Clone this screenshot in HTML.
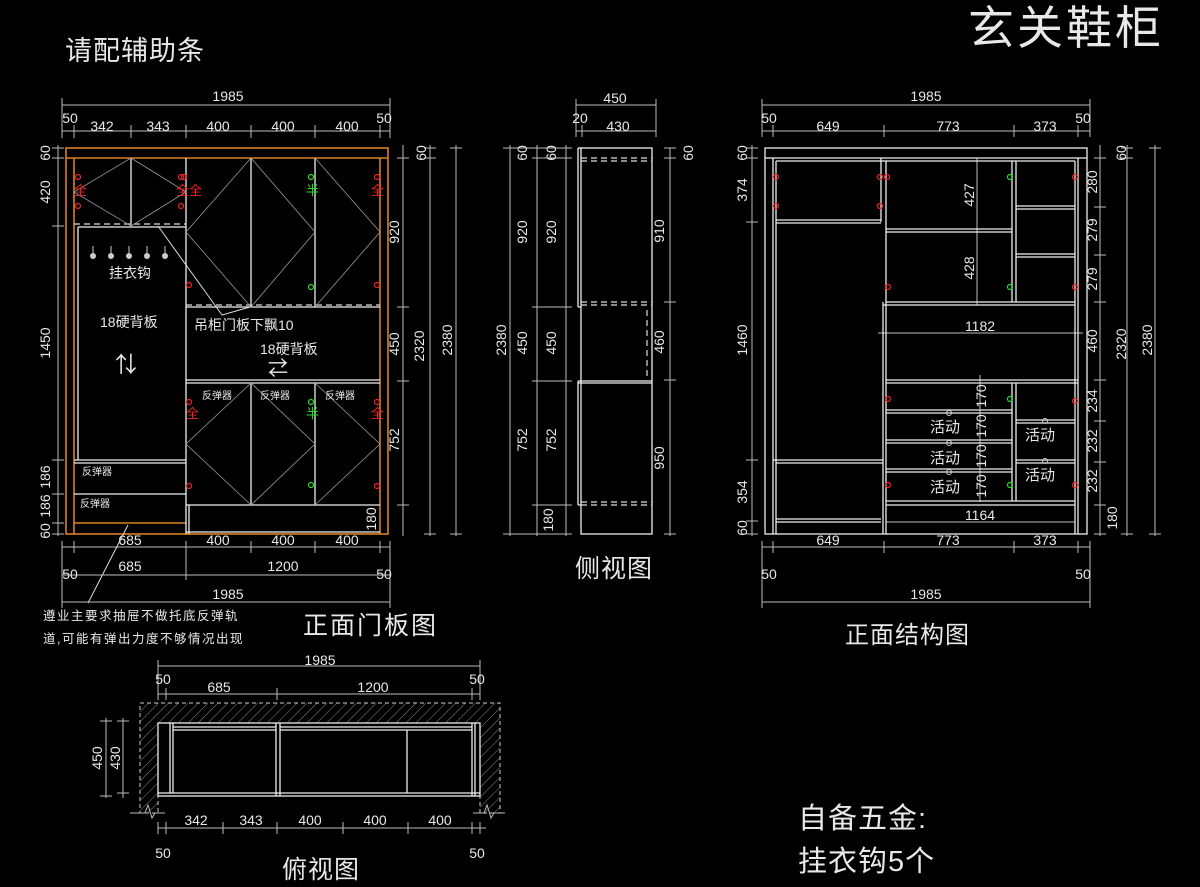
<!DOCTYPE html>
<html><head><meta charset="utf-8"><style>
html,body{margin:0;padding:0;background:#000;}
svg{display:block}
text{font-family:"Liberation Sans","Noto Sans CJK SC",sans-serif;fill:#e8e8e8;}
.d{stroke:#bbb;stroke-width:1;fill:none}
.w{stroke:#eee;stroke-width:1.3;fill:none}
.o{stroke:#d9801f;stroke-width:1.6;fill:none}
.t{stroke:#999;stroke-width:0.8;fill:none}
.dash{stroke:#ddd;stroke-width:1.2;stroke-dasharray:6,4;fill:none}
.n{font-size:14px}
.r{fill:#e22;font-size:15px}
.c{font-size:12px}
</style></head><body>
<svg width="1200" height="887" viewBox="0 0 1200 887" xmlns="http://www.w3.org/2000/svg">
<rect width="1200" height="887" fill="#000"/>
<!-- titles -->
<text x="968" y="44" font-size="46" style="letter-spacing:3px">玄关鞋柜</text>
<text x="65" y="60" font-size="27" style="letter-spacing:1px">请配辅助条</text>

<!-- ================= FRONT DOOR VIEW ================= -->
<g class="d">
<line x1="62" y1="105" x2="390" y2="105"/>
<line x1="62" y1="131" x2="390" y2="131"/>
<line x1="62" y1="98" x2="62" y2="138"/><line x1="390" y1="98" x2="390" y2="138"/>
<line x1="74" y1="125" x2="74" y2="138"/><line x1="131" y1="125" x2="131" y2="138"/><line x1="186" y1="125" x2="186" y2="138"/><line x1="251" y1="125" x2="251" y2="138"/><line x1="315" y1="125" x2="315" y2="138"/><line x1="380" y1="125" x2="380" y2="138"/>
<line x1="58" y1="145" x2="58" y2="536"/>
<line x1="52" y1="148" x2="64" y2="148"/><line x1="52" y1="158" x2="64" y2="158"/><line x1="52" y1="226" x2="64" y2="226"/><line x1="52" y1="460" x2="64" y2="460"/><line x1="52" y1="494" x2="64" y2="494"/><line x1="52" y1="523" x2="64" y2="523"/><line x1="52" y1="534" x2="64" y2="534"/>
<line x1="403" y1="145" x2="403" y2="536"/>
<line x1="397" y1="158" x2="409" y2="158"/><line x1="397" y1="307" x2="409" y2="307"/><line x1="397" y1="381" x2="409" y2="381"/><line x1="397" y1="505" x2="409" y2="505"/>
<line x1="430" y1="145" x2="430" y2="536"/>
<line x1="424" y1="148" x2="436" y2="148"/><line x1="424" y1="158" x2="436" y2="158"/><line x1="424" y1="534" x2="436" y2="534"/>
<line x1="456" y1="145" x2="456" y2="536"/>
<line x1="450" y1="148" x2="462" y2="148"/><line x1="450" y1="534" x2="462" y2="534"/>
<line x1="62" y1="547" x2="390" y2="547"/>
<line x1="62" y1="575" x2="390" y2="575"/>
<line x1="62" y1="602" x2="390" y2="602"/>
<line x1="186" y1="541" x2="186" y2="580"/><line x1="251" y1="541" x2="251" y2="553"/><line x1="315" y1="541" x2="315" y2="553"/>
<line x1="62" y1="541" x2="62" y2="608"/><line x1="390" y1="541" x2="390" y2="608"/><line x1="74" y1="541" x2="74" y2="553"/><line x1="380" y1="541" x2="380" y2="553"/>
</g>
<g class="n" text-anchor="middle">
<text x="228" y="101">1985</text>
<text x="70" y="123">50</text><text x="102" y="131">342</text><text x="158" y="131">343</text>
<text x="218" y="131">400</text><text x="283" y="131">400</text><text x="347" y="131">400</text><text x="384" y="123">50</text>
<text transform="translate(50,153) rotate(-90)">60</text>
<text transform="translate(50,192) rotate(-90)">420</text>
<text transform="translate(50,343) rotate(-90)">1450</text>
<text transform="translate(50,477) rotate(-90)">186</text>
<text transform="translate(50,506) rotate(-90)">186</text>
<text transform="translate(50,531) rotate(-90)">60</text>
<text transform="translate(399,232) rotate(-90)">920</text>
<text transform="translate(399,344) rotate(-90)">450</text>
<text transform="translate(399,440) rotate(-90)">752</text>
<text transform="translate(376,519) rotate(-90)">180</text>
<text transform="translate(426,153) rotate(-90)">60</text>
<text transform="translate(424,346) rotate(-90)">2320</text>
<text transform="translate(452,340) rotate(-90)">2380</text>
<text x="130" y="545">685</text><text x="218" y="545">400</text><text x="283" y="545">400</text><text x="347" y="545">400</text>
<text x="70" y="579">50</text><text x="130" y="571">685</text><text x="283" y="571">1200</text><text x="384" y="579">50</text>
<text x="228" y="599">1985</text>
</g>
<!-- cabinet -->
<rect x="66" y="148" width="322" height="386" class="o"/>
<line x1="66" y1="158" x2="388" y2="158" class="o"/>
<line x1="74" y1="158" x2="74" y2="534" class="o"/>
<line x1="380" y1="158" x2="380" y2="534" class="o"/>
<line x1="74" y1="523" x2="186" y2="523" class="o"/>
<g class="w">
<line x1="131" y1="158" x2="131" y2="226"/>
<line x1="186" y1="158" x2="186" y2="534"/>
<line x1="251" y1="158" x2="251" y2="307"/><line x1="315" y1="158" x2="315" y2="307"/>
<line x1="78" y1="227" x2="186" y2="227"/><line x1="78" y1="227" x2="78" y2="460"/>
<line x1="186" y1="307" x2="380" y2="307"/>
<line x1="186" y1="380" x2="380" y2="380"/><line x1="186" y1="383" x2="380" y2="383"/>
<line x1="251" y1="383" x2="251" y2="505"/><line x1="315" y1="383" x2="315" y2="505"/>
<line x1="186" y1="505" x2="380" y2="505"/>
<line x1="189" y1="505" x2="189" y2="534"/>
<line x1="74" y1="460" x2="186" y2="460"/><line x1="74" y1="463" x2="186" y2="463"/>
<line x1="74" y1="494" x2="186" y2="494"/>
<line x1="186" y1="532" x2="380" y2="532"/>
</g>
<g class="dash"><line x1="74" y1="224" x2="186" y2="224"/><line x1="186" y1="305" x2="380" y2="305"/></g>
<g class="t">
<polyline points="131,158 74,192 131,226"/><polyline points="131,158 186,192 131,226"/>
<polyline points="251,158 186,232 251,307"/><polyline points="251,158 315,232 251,307"/><polyline points="315,158 380,232 315,307"/>
<polyline points="251,383 186,444 251,505"/><polyline points="251,383 315,444 251,505"/><polyline points="315,383 380,444 315,505"/>
</g>
<line x1="158" y1="226" x2="222" y2="315" stroke="#ddd"/><line x1="222" y1="315" x2="250" y2="307" stroke="#ddd"/>
<line x1="128" y1="525" x2="88" y2="603" stroke="#ddd"/>
<!-- hinges -->
<g fill="none" stroke="#e22" stroke-width="1.2">
<circle cx="78" cy="177" r="2.5"/><circle cx="78" cy="206" r="2.5"/>
<circle cx="181" cy="177" r="2.5"/><circle cx="181" cy="206" r="2.5"/><circle cx="184" cy="177" r="2.5"/>
<circle cx="189" cy="285" r="2.5"/><circle cx="377" cy="177" r="2.5"/><circle cx="377" cy="285" r="2.5"/>
<circle cx="189" cy="402" r="2.5"/><circle cx="189" cy="486" r="2.5"/><circle cx="377" cy="402" r="2.5"/><circle cx="377" cy="486" r="2.5"/>
</g>
<g fill="none" stroke="#2d2" stroke-width="1.2"><circle cx="311" cy="177" r="2.5"/><circle cx="311" cy="287" r="2.5"/><circle cx="311" cy="402" r="2.5"/><circle cx="311" cy="485" r="2.5"/></g>
<g font-size="13" style="fill:#e22">
<text x="74" y="195" class="r" style="font-size:13px">全</text><text x="176" y="195" class="r" style="font-size:13px">全全</text>
<text x="371" y="195" class="r" style="font-size:13px">全</text>
<text x="186" y="418" class="r" style="font-size:13px">全</text><text x="371" y="418" class="r" style="font-size:13px">全</text>
</g>
<text x="306" y="195" style="fill:#2d2;font-size:13px">半</text><text x="306" y="418" style="fill:#2d2;font-size:13px">半</text>
<g fill="#ccc"><circle cx="93" cy="256" r="3"/><circle cx="111" cy="256" r="3"/><circle cx="129" cy="256" r="3"/><circle cx="147" cy="256" r="3"/><circle cx="165" cy="256" r="3"/></g>
<g stroke="#ccc"><line x1="93" y1="246" x2="93" y2="254"/><line x1="111" y1="246" x2="111" y2="254"/><line x1="129" y1="246" x2="129" y2="254"/><line x1="147" y1="246" x2="147" y2="254"/><line x1="165" y1="246" x2="165" y2="254"/></g>
<text x="109" y="278" font-size="14">挂衣钩</text>
<text x="100" y="327" font-size="14">18硬背板</text>
<text x="115" y="372" font-size="22">⇅</text>
<text x="194" y="330" font-size="14">吊柜门板下飘10</text>
<text x="260" y="354" font-size="14">18硬背板</text>
<text x="268" y="375" font-size="20">⇄</text>
<g font-size="10"><text x="202" y="399">反弹器</text><text x="260" y="399">反弹器</text><text x="325" y="399">反弹器</text><text x="82" y="475">反弹器</text><text x="80" y="507">反弹器</text></g>
<text x="43" y="620" font-size="12.5" style="letter-spacing:1.5px">遵业主要求抽屉不做托底反弹轨</text>
<text x="43" y="643" font-size="12.5" style="letter-spacing:1.5px">道,可能有弹出力度不够情况出现</text>
<text x="303" y="634" font-size="25" style="letter-spacing:2px">正面门板图</text>

<!-- ================= SIDE VIEW ================= -->
<g class="d">
<line x1="576" y1="105" x2="656" y2="105"/><line x1="576" y1="131" x2="656" y2="131"/>
<line x1="576" y1="99" x2="576" y2="137"/><line x1="656" y1="99" x2="656" y2="137"/><line x1="582" y1="125" x2="582" y2="137"/>
<line x1="510" y1="145" x2="510" y2="536"/><line x1="537" y1="145" x2="537" y2="536"/><line x1="566" y1="145" x2="566" y2="536"/>
<line x1="503" y1="148" x2="572" y2="148"/><line x1="532" y1="158" x2="572" y2="158"/><line x1="532" y1="307" x2="572" y2="307"/><line x1="532" y1="381" x2="572" y2="381"/><line x1="532" y1="505" x2="572" y2="505"/><line x1="503" y1="534" x2="572" y2="534"/>
<line x1="670" y1="148" x2="670" y2="536"/><line x1="664" y1="148" x2="676" y2="148"/><line x1="664" y1="158" x2="676" y2="158"/><line x1="664" y1="302" x2="676" y2="302"/><line x1="664" y1="380" x2="676" y2="380"/><line x1="664" y1="534" x2="676" y2="534"/>
</g>
<g class="w">
<rect x="581" y="148" width="71" height="386"/>
<line x1="578" y1="148" x2="578" y2="307"/><line x1="578" y1="148" x2="581" y2="148"/><line x1="578" y1="307" x2="581" y2="307"/>
<line x1="578" y1="381" x2="578" y2="505"/><line x1="578" y1="381" x2="652" y2="381"/><line x1="578" y1="383" x2="652" y2="383"/><line x1="578" y1="505" x2="581" y2="505"/>
</g>
<g class="dash"><line x1="581" y1="158" x2="652" y2="158"/><line x1="581" y1="161" x2="652" y2="161"/><line x1="581" y1="302" x2="652" y2="302"/><line x1="581" y1="305" x2="652" y2="305"/><line x1="581" y1="502" x2="652" y2="502"/><line x1="581" y1="505" x2="652" y2="505"/><line x1="647" y1="310" x2="647" y2="378"/></g>
<g class="n" text-anchor="middle">
<text x="615" y="103">450</text><text x="580" y="123">20</text><text x="618" y="131">430</text>
<text transform="translate(506,340) rotate(-90)">2380</text>
<text transform="translate(527,153) rotate(-90)">60</text><text transform="translate(556,153) rotate(-90)">60</text>
<text transform="translate(527,232) rotate(-90)">920</text><text transform="translate(556,232) rotate(-90)">920</text>
<text transform="translate(527,343) rotate(-90)">450</text><text transform="translate(556,343) rotate(-90)">450</text>
<text transform="translate(527,440) rotate(-90)">752</text><text transform="translate(556,440) rotate(-90)">752</text>
<text transform="translate(553,520) rotate(-90)">180</text>
<text transform="translate(664,231) rotate(-90)">910</text><text transform="translate(693,153) rotate(-90)">60</text>
<text transform="translate(664,342) rotate(-90)">460</text><text transform="translate(664,458) rotate(-90)">950</text>
</g>
<text x="575" y="577" font-size="25" style="letter-spacing:1px">侧视图</text>

<!-- ================= STRUCTURE VIEW ================= -->
<g class="d">
<line x1="762" y1="105" x2="1090" y2="105"/><line x1="762" y1="131" x2="1090" y2="131"/>
<line x1="762" y1="99" x2="762" y2="137"/><line x1="1090" y1="99" x2="1090" y2="137"/>
<line x1="773" y1="125" x2="773" y2="137"/><line x1="884" y1="125" x2="884" y2="137"/><line x1="1014" y1="125" x2="1014" y2="137"/><line x1="1078" y1="125" x2="1078" y2="137"/>
<line x1="762" y1="547" x2="1090" y2="547"/><line x1="762" y1="602" x2="1090" y2="602"/>
<line x1="762" y1="541" x2="762" y2="608"/><line x1="1090" y1="541" x2="1090" y2="608"/>
<line x1="773" y1="541" x2="773" y2="553"/><line x1="884" y1="541" x2="884" y2="553"/><line x1="1014" y1="541" x2="1014" y2="553"/><line x1="1078" y1="541" x2="1078" y2="553"/>
<line x1="752" y1="145" x2="752" y2="536"/>
<line x1="746" y1="148" x2="758" y2="148"/><line x1="746" y1="158" x2="758" y2="158"/><line x1="746" y1="222" x2="758" y2="222"/><line x1="746" y1="460" x2="758" y2="460"/><line x1="746" y1="521" x2="758" y2="521"/><line x1="746" y1="534" x2="758" y2="534"/>
<line x1="1100" y1="145" x2="1100" y2="536"/>
<line x1="1094" y1="158" x2="1106" y2="158"/><line x1="1094" y1="207" x2="1106" y2="207"/><line x1="1094" y1="255" x2="1106" y2="255"/><line x1="1094" y1="302" x2="1106" y2="302"/><line x1="1094" y1="380" x2="1106" y2="380"/><line x1="1094" y1="421" x2="1106" y2="421"/><line x1="1094" y1="462" x2="1106" y2="462"/><line x1="1094" y1="505" x2="1106" y2="505"/><line x1="1094" y1="534" x2="1106" y2="534"/>
<line x1="1127" y1="145" x2="1127" y2="536"/><line x1="1121" y1="148" x2="1133" y2="148"/><line x1="1121" y1="158" x2="1133" y2="158"/><line x1="1121" y1="534" x2="1133" y2="534"/>
<line x1="1155" y1="145" x2="1155" y2="536"/><line x1="1149" y1="148" x2="1161" y2="148"/><line x1="1149" y1="534" x2="1161" y2="534"/>
<line x1="977" y1="158" x2="977" y2="305"/><line x1="980" y1="375" x2="980" y2="502"/>
<line x1="878" y1="333" x2="1083" y2="333"/><line x1="886" y1="522" x2="1075" y2="522"/>
</g>
<g class="w">
<rect x="765" y="148" width="322" height="386"/>
<line x1="765" y1="158" x2="1087" y2="158"/>
<line x1="773" y1="158" x2="773" y2="534"/><line x1="776" y1="161" x2="776" y2="534"/>
<line x1="881" y1="158" x2="881" y2="222"/><line x1="886" y1="161" x2="886" y2="534"/><line x1="883" y1="302" x2="883" y2="534"/>
<line x1="776" y1="161" x2="1075" y2="161"/>
<line x1="776" y1="220" x2="881" y2="220"/><line x1="776" y1="223" x2="881" y2="223"/>
<line x1="773" y1="460" x2="883" y2="460"/><line x1="776" y1="463" x2="883" y2="463"/>
<line x1="776" y1="519" x2="881" y2="519"/><line x1="776" y1="522" x2="881" y2="522"/>
<line x1="1012" y1="161" x2="1012" y2="302"/><line x1="1016" y1="161" x2="1016" y2="302"/>
<line x1="1075" y1="161" x2="1075" y2="534"/><line x1="1078" y1="158" x2="1078" y2="534"/>
<line x1="886" y1="229" x2="1012" y2="229"/><line x1="886" y1="232" x2="1012" y2="232"/>
<line x1="1016" y1="206" x2="1075" y2="206"/><line x1="1016" y1="209" x2="1075" y2="209"/>
<line x1="1016" y1="254" x2="1075" y2="254"/><line x1="1016" y1="257" x2="1075" y2="257"/>
<line x1="886" y1="302" x2="1075" y2="302"/><line x1="883" y1="305" x2="1075" y2="305"/>
<line x1="886" y1="380" x2="1078" y2="380"/><line x1="886" y1="383" x2="1078" y2="383"/>
<line x1="1012" y1="383" x2="1012" y2="501"/><line x1="1016" y1="383" x2="1016" y2="501"/>
<line x1="886" y1="410" x2="1012" y2="410"/><line x1="886" y1="413" x2="1012" y2="413"/>
<line x1="886" y1="440" x2="1012" y2="440"/><line x1="886" y1="443" x2="1012" y2="443"/>
<line x1="886" y1="469" x2="1012" y2="469"/><line x1="886" y1="472" x2="1012" y2="472"/>
<line x1="1016" y1="420" x2="1075" y2="420"/><line x1="1016" y1="423" x2="1075" y2="423"/>
<line x1="1016" y1="460" x2="1075" y2="460"/><line x1="1016" y1="463" x2="1075" y2="463"/>
<line x1="886" y1="501" x2="1075" y2="501"/><line x1="886" y1="505" x2="1075" y2="505"/>
</g>
<g fill="none" stroke="#e22" stroke-width="1.2">
<circle cx="776" cy="177" r="2.5"/><circle cx="776" cy="206" r="2.5"/><circle cx="880" cy="177" r="2.5"/><circle cx="880" cy="206" r="2.5"/><circle cx="887" cy="177" r="2.5"/>
<circle cx="888" cy="287" r="2.5"/><circle cx="1075" cy="177" r="2.5"/><circle cx="1075" cy="287" r="2.5"/>
<circle cx="888" cy="399" r="2.5"/><circle cx="888" cy="485" r="2.5"/><circle cx="1075" cy="401" r="2.5"/><circle cx="1075" cy="485" r="2.5"/>
</g>
<g fill="none" stroke="#2d2" stroke-width="1.2"><circle cx="1010" cy="177" r="2.5"/><circle cx="1010" cy="287" r="2.5"/><circle cx="1010" cy="399" r="2.5"/><circle cx="1010" cy="485" r="2.5"/></g>
<g fill="none" stroke="#ccc"><circle cx="949" cy="413" r="2.5"/><circle cx="949" cy="443" r="2.5"/><circle cx="949" cy="472" r="2.5"/><circle cx="1045" cy="421" r="2.5"/><circle cx="1045" cy="461" r="2.5"/></g>
<g class="r"><text x="930" y="432">活动</text><text x="930" y="463">活动</text><text x="930" y="492">活动</text><text x="1025" y="440">活动</text><text x="1025" y="480">活动</text></g>
<g class="n" text-anchor="middle">
<text x="926" y="101">1985</text>
<text x="769" y="123">50</text><text x="828" y="131">649</text><text x="948" y="131">773</text><text x="1045" y="131">373</text><text x="1083" y="123">50</text>
<text x="828" y="545">649</text><text x="948" y="545">773</text><text x="1045" y="545">373</text>
<text x="769" y="579">50</text><text x="1083" y="579">50</text><text x="926" y="599">1985</text>
<text x="980" y="331">1182</text><text x="980" y="520">1164</text>
<text transform="translate(974,195) rotate(-90)">427</text>
<text transform="translate(974,268) rotate(-90)">428</text>
<text transform="translate(986,396) rotate(-90)">170</text><text transform="translate(986,426) rotate(-90)">170</text><text transform="translate(986,456) rotate(-90)">170</text><text transform="translate(986,486) rotate(-90)">170</text>
<text transform="translate(747,153) rotate(-90)">60</text><text transform="translate(747,190) rotate(-90)">374</text>
<text transform="translate(747,340) rotate(-90)">1460</text><text transform="translate(747,492) rotate(-90)">354</text><text transform="translate(747,528) rotate(-90)">60</text>
<text transform="translate(1097,182) rotate(-90)">280</text><text transform="translate(1097,230) rotate(-90)">279</text><text transform="translate(1097,279) rotate(-90)">279</text>
<text transform="translate(1097,341) rotate(-90)">460</text><text transform="translate(1097,401) rotate(-90)">234</text><text transform="translate(1097,441) rotate(-90)">232</text><text transform="translate(1097,481) rotate(-90)">232</text><text transform="translate(1117,518) rotate(-90)">180</text>
<text transform="translate(1126,153) rotate(-90)">60</text><text transform="translate(1126,344) rotate(-90)">2320</text><text transform="translate(1152,340) rotate(-90)">2380</text>
</g>
<text x="845" y="643" font-size="24" style="letter-spacing:1px">正面结构图</text>

<!-- ================= PLAN VIEW ================= -->
<defs><pattern id="h" width="7" height="7" patternUnits="userSpaceOnUse" patternTransform="rotate(45)"><line x1="0" y1="0" x2="0" y2="7" stroke="#888" stroke-width="1"/></pattern></defs>
<path d="M140,703 H500 V813 H480 V723 H158 V813 H140 Z" fill="url(#h)" stroke="#ccc" stroke-dasharray="4,3"/>
<g class="w">
<rect x="158" y="723" width="322" height="73"/>
<line x1="170" y1="723" x2="170" y2="793"/><line x1="173" y1="723" x2="173" y2="793"/>
<line x1="173" y1="727" x2="276" y2="727"/><line x1="173" y1="730" x2="276" y2="730"/>
<line x1="276" y1="723" x2="276" y2="796"/><line x1="280" y1="723" x2="280" y2="796"/>
<line x1="280" y1="727" x2="472" y2="727"/><line x1="280" y1="730" x2="472" y2="730"/>
<line x1="407" y1="730" x2="407" y2="793"/><line x1="472" y1="723" x2="472" y2="796"/><line x1="475" y1="723" x2="475" y2="796"/>
<line x1="158" y1="793" x2="480" y2="793"/>
</g>
<g class="d">
<polyline points="130,813 145,813 148,805 152,818 155,813 165,813"/>
<polyline points="473,813 484,813 487,805 491,818 494,813 505,813"/>
<line x1="158" y1="666" x2="480" y2="666"/><line x1="158" y1="694" x2="480" y2="694"/>
<line x1="158" y1="660" x2="158" y2="700"/><line x1="480" y1="660" x2="480" y2="700"/><line x1="166" y1="688" x2="166" y2="700"/><line x1="277" y1="688" x2="277" y2="700"/><line x1="472" y1="688" x2="472" y2="700"/>
<line x1="158" y1="828" x2="486" y2="828"/>
<line x1="158" y1="822" x2="158" y2="834"/><line x1="166" y1="822" x2="166" y2="834"/><line x1="223" y1="822" x2="223" y2="834"/><line x1="277" y1="822" x2="277" y2="834"/><line x1="343" y1="822" x2="343" y2="834"/><line x1="408" y1="822" x2="408" y2="834"/><line x1="472" y1="822" x2="472" y2="834"/><line x1="480" y1="822" x2="480" y2="834"/>
<line x1="106" y1="718" x2="106" y2="798"/><line x1="100" y1="721" x2="112" y2="721"/><line x1="100" y1="796" x2="112" y2="796"/>
<line x1="123" y1="718" x2="123" y2="798"/><line x1="117" y1="721" x2="129" y2="721"/><line x1="117" y1="793" x2="129" y2="793"/>
</g>
<g class="n" text-anchor="middle">
<text x="320" y="665">1985</text>
<text x="163" y="684">50</text><text x="219" y="692">685</text><text x="373" y="692">1200</text><text x="477" y="684">50</text>
<text x="196" y="825">342</text><text x="251" y="825">343</text><text x="310" y="825">400</text><text x="375" y="825">400</text><text x="440" y="825">400</text>
<text x="163" y="858">50</text><text x="477" y="858">50</text>
<text transform="translate(102,758) rotate(-90)">450</text><text transform="translate(120,758) rotate(-90)">430</text>
</g>
<text x="282" y="878" font-size="25" style="letter-spacing:1px">俯视图</text>

<text x="798" y="828" font-size="29" style="letter-spacing:1px">自备五金:</text>
<text x="798" y="871" font-size="29" style="letter-spacing:1px">挂衣钩5个</text>
</svg>
</body></html>
